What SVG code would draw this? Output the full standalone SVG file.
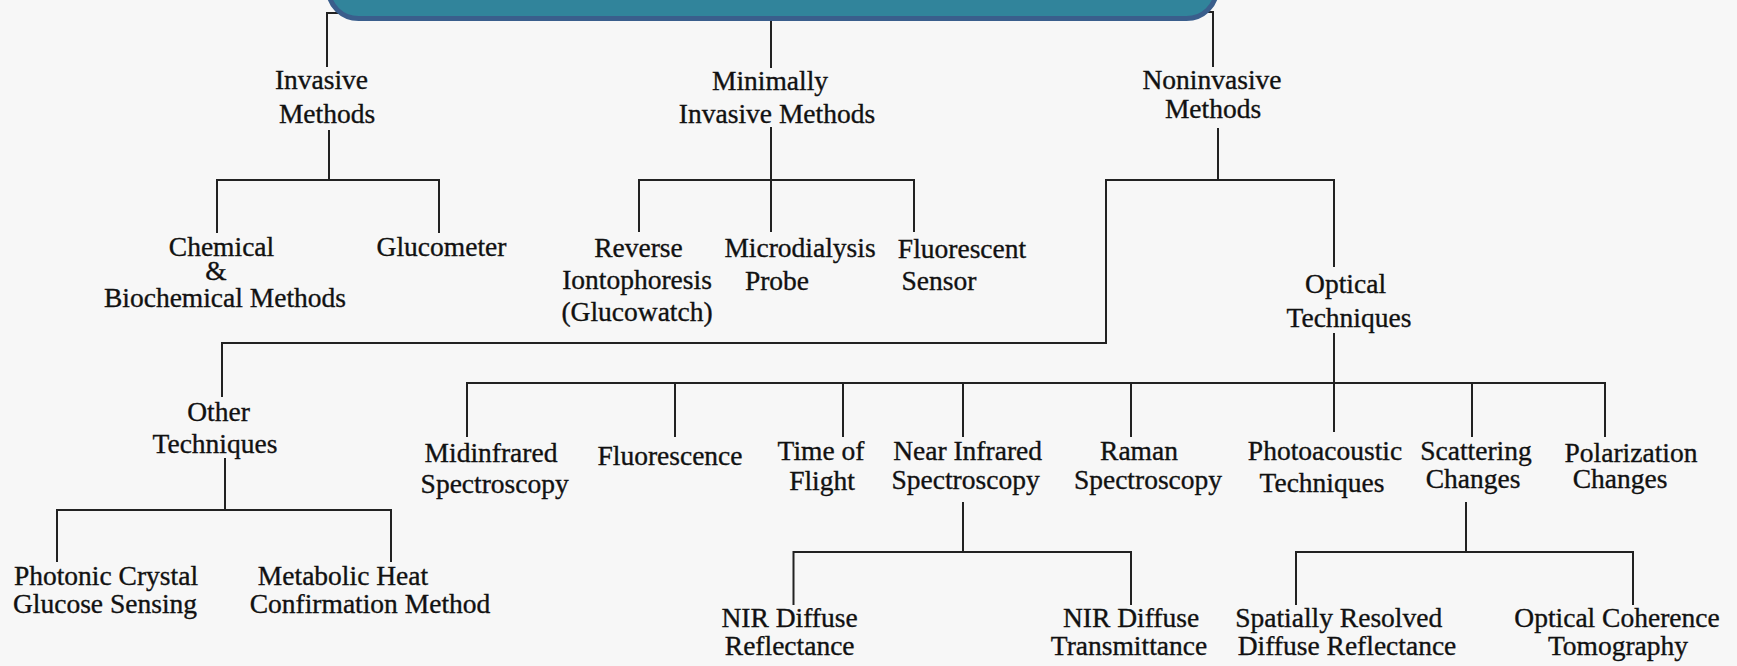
<svg xmlns="http://www.w3.org/2000/svg" width="1737" height="666" viewBox="0 0 1737 666">
<style>
.t{font-family:"Liberation Serif","Times New Roman",serif;font-size:27.5px;fill:#111;stroke:#111;stroke-width:0.35px;text-anchor:middle}
.c{fill:none;stroke:#222;stroke-width:2}
</style>
<rect width="1737" height="666" fill="#f7f7f7"/>
<g id="connectors" class="c">
<path d="M360 13H327V67"/>
<path d="M771 15V68"/>
<path d="M1190 12H1213V67"/>
<path d="M329 130V180M217 233V180H439V233"/>
<path d="M771 127V232M639 232V180H914V232"/>
<path d="M1218 128V180M222 397V343H1106V180H1334V267M1334 333V432"/>
<path d="M467 437V383H1605V437M675 383V437M843 383V437M963 383V437M1131 383V437M1472 383V437"/>
<path d="M225 458V510M57 562V510H391V562"/>
<path d="M963 502V552M793.5 605V552H1131V605"/>
<path d="M1466 502V552M1296 605V552H1633V605"/>
</g>
<g id="root"><rect x="328.5" y="-40" width="888" height="58.5" rx="30" fill="#31849b" stroke="#3a5e8c" stroke-width="5"/></g>
<g id="invasive"><text class="t" x="321.5" y="89">Invasive</text><text class="t" x="327" y="123">Methods</text></g>
<g id="minimally"><text class="t" x="770" y="90">Minimally</text><text class="t" x="777" y="123">Invasive Methods</text></g>
<g id="noninvasive"><text class="t" x="1212" y="89">Noninvasive</text><text class="t" x="1213" y="118">Methods</text></g>
<g id="chemical"><text class="t" x="221.5" y="256">Chemical</text><text class="t" x="216" y="280">&amp;</text><text class="t" x="225" y="307">Biochemical Methods</text></g>
<g id="glucometer"><text class="t" x="441.5" y="256">Glucometer</text></g>
<g id="reverse"><text class="t" x="638.5" y="257">Reverse</text><text class="t" x="637" y="289">Iontophoresis</text><text class="t" x="637" y="321">(Glucowatch)</text></g>
<g id="microdialysis"><text class="t" x="800" y="257">Microdialysis</text><text class="t" x="777" y="290">Probe</text></g>
<g id="fluorescent"><text class="t" x="962" y="258">Fluorescent</text><text class="t" x="939" y="290">Sensor</text></g>
<g id="optical"><text class="t" x="1345.6" y="293">Optical</text><text class="t" x="1349" y="327">Techniques</text></g>
<g id="other"><text class="t" x="218.5" y="421">Other</text><text class="t" x="215" y="453">Techniques</text></g>
<g id="midinfrared"><text class="t" x="491" y="462">Midinfrared</text><text class="t" x="494.7" y="493">Spectroscopy</text></g>
<g id="fluorescence"><text class="t" x="670" y="465">Fluorescence</text></g>
<g id="timeofflight"><text class="t" x="821" y="460">Time of</text><text class="t" x="822" y="490">Flight</text></g>
<g id="nir"><text class="t" x="967.6" y="460">Near Infrared</text><text class="t" x="965.6" y="489">Spectroscopy</text></g>
<g id="raman"><text class="t" x="1139" y="460">Raman</text><text class="t" x="1148" y="489">Spectroscopy</text></g>
<g id="photoacoustic"><text class="t" x="1325" y="460">Photoacoustic</text><text class="t" x="1322" y="492">Techniques</text></g>
<g id="scattering"><text class="t" x="1476" y="460">Scattering</text><text class="t" x="1473" y="488">Changes</text></g>
<g id="polarization"><text class="t" x="1631" y="462">Polarization</text><text class="t" x="1620" y="488">Changes</text></g>
<g id="photonic"><text class="t" x="106" y="585">Photonic Crystal</text><text class="t" x="105" y="613">Glucose Sensing</text></g>
<g id="metabolic"><text class="t" x="343" y="585">Metabolic Heat</text><text class="t" x="370" y="613">Confirmation Method</text></g>
<g id="nirdr"><text class="t" x="789.5" y="627">NIR Diffuse</text><text class="t" x="789.7" y="655">Reflectance</text></g>
<g id="nirdt"><text class="t" x="1131" y="627">NIR Diffuse</text><text class="t" x="1129" y="655">Transmittance</text></g>
<g id="srdr"><text class="t" x="1338.7" y="627">Spatially Resolved</text><text class="t" x="1347" y="655">Diffuse Reflectance</text></g>
<g id="oct"><text class="t" x="1617" y="627">Optical Coherence</text><text class="t" x="1618" y="655">Tomography</text></g>
</svg>
